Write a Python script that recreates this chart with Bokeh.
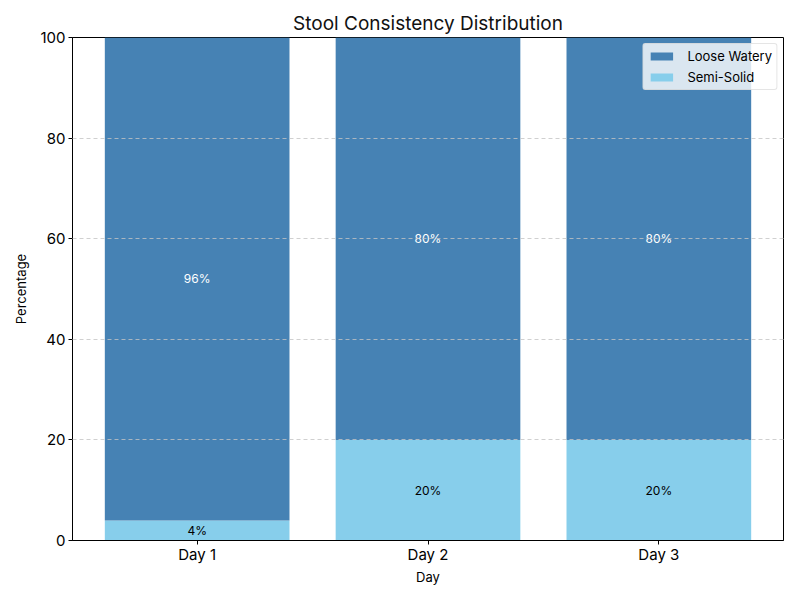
from bokeh.plotting import figure
from bokeh.models import ColumnDataSource, Range1d, FixedTicker, Legend, LegendItem, LabelSet
from bokeh.core.properties import value
from bokeh.embed import file_html
from bokeh.resources import INLINE

days = ["Day 1", "Day 2", "Day 3"]
semi_solid = [4, 20, 20]
loose_watery = [96, 80, 80]
y_ticks = [0, 20, 40, 60, 80, 100]

FONT = "Inter"

xs = list(range(len(days)))
src = ColumnDataSource(dict(
    x=xs,
    semi=semi_solid,
    loose=loose_watery,
    loose_top=[s + l for s, l in zip(semi_solid, loose_watery)],
    semi_mid=[s / 2 for s in semi_solid],
    loose_mid=[s + l / 2 for s, l in zip(semi_solid, loose_watery)],
    semi_lbl=[f"{v}%" for v in semi_solid],
    loose_lbl=[f"{v}%" for v in loose_watery],
))

p = figure(frame_width=711, frame_height=503, output_backend="svg", toolbar_location=None,
           x_range=Range1d(-0.54, 2.54), y_range=Range1d(0, 100),
           min_border_left=72, min_border_right=1, min_border_top=37, min_border_bottom=42)

p.title.text = "Stool Consistency Distribution"
p.title.align = "center"
p.title.text_font = FONT
p.title.text_font_size = "19px"
p.title.text_font_style = "normal"
p.title.text_color = "#111111"
p.title.standoff = 6

r_semi = p.vbar(x="x", top="semi", bottom=0, width=0.8, source=src,
                fill_color="#87CEEB", line_color=None)
r_loose = p.vbar(x="x", top="loose_top", bottom="semi", width=0.8, source=src,
                 fill_color="#4682B4", line_color=None)

p.add_layout(LabelSet(x="x", y="semi_mid", text="semi_lbl", source=src,
                      text_align="center", text_baseline="middle",
                      text_font=value(FONT), text_font_size="12px", text_color="black"))
p.add_layout(LabelSet(x="x", y="loose_mid", text="loose_lbl", source=src,
                      text_align="center", text_baseline="middle",
                      text_font=value(FONT), text_font_size="12px", text_color="white"))

p.xgrid.grid_line_color = None
p.ygrid.ticker = FixedTicker(ticks=y_ticks)
p.ygrid.grid_line_color = "#c4c4c4"
p.ygrid.grid_line_dash = "4 3"
p.ygrid.grid_line_width = 0.8
p.ygrid.level = "overlay"

p.xaxis.ticker = FixedTicker(ticks=xs)
p.xaxis.major_label_overrides = {i: d for i, d in enumerate(days)}
p.yaxis.ticker = FixedTicker(ticks=y_ticks)

for ax in (p.xaxis[0], p.yaxis[0]):
    ax.axis_line_color = "black"
    ax.major_tick_line_color = "black"
    ax.minor_tick_line_color = None
    ax.major_tick_out = 4
    ax.major_tick_in = 0
    ax.major_label_standoff = 3
    ax.major_label_text_font = FONT
    ax.major_label_text_font_size = "15px"
    ax.major_label_text_color = "black"
    ax.axis_label_text_font = FONT
    ax.axis_label_text_font_size = "13px"
    ax.axis_label_text_font_style = "normal"
    ax.axis_label_text_color = "black"

p.xaxis.major_label_standoff = 0
p.xaxis.axis_label = "Day"
p.yaxis.axis_label = "Percentage"
p.xaxis.axis_label_standoff = 2
p.yaxis.axis_label_standoff = 8

p.outline_line_color = "black"
p.outline_line_alpha = 1

legend = Legend(items=[LegendItem(label="Loose Watery", renderers=[r_loose]),
                       LegendItem(label="Semi-Solid", renderers=[r_semi])],
                location="top_right", margin=6, padding=4, spacing=5,
                label_standoff=12,
                label_text_font=FONT, label_text_font_size="13px",
                label_text_color="black",
                glyph_width=28, glyph_height=10, label_height=14,
                border_line_color="#cccccc", background_fill_alpha=0.8,
                border_radius=3)
p.add_layout(legend)

open("out.html", "w").write(file_html(p, INLINE))
